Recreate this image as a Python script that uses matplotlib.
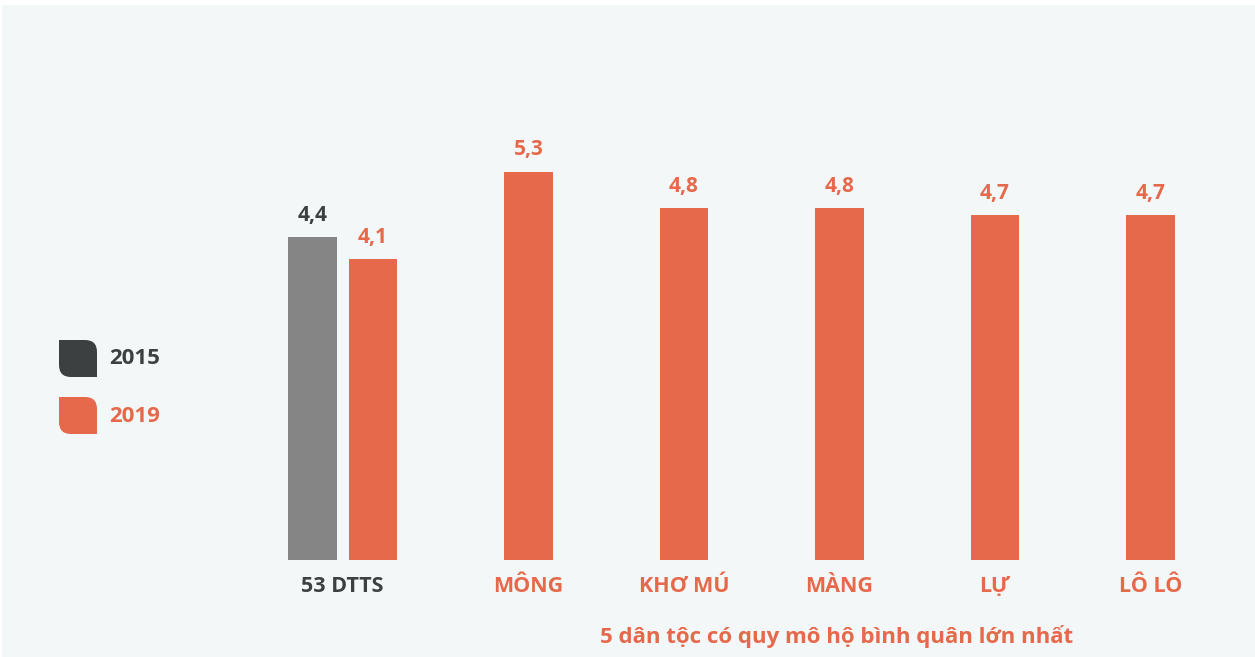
import matplotlib.pyplot as plt
from matplotlib.path import Path
from matplotlib.patches import PathPatch, Rectangle

groups = ['53 DTTS', 'MÔNG', 'KHƠ MÚ', 'MÀNG', 'LỰ', 'LÔ LÔ']
values_2019 = [4.1, 5.3, 4.8, 4.8, 4.7, 4.7]
value_2015 = 4.4
years = ['2015', '2019']
subtitle = '5 dân tộc có quy mô hộ bình quân lớn nhất'

ORANGE = '#E5694A'
GREY_BAR = '#858585'
DARK = '#3C4041'
BG = '#F4F7F7'

plt.rcParams['font.family'] = ['Open Sans', 'DejaVu Sans']

fig = plt.figure(figsize=(12.55, 6.57), dpi=100, facecolor='white')

# background panel, pixel coordinates
bg = fig.add_axes([0, 0, 1, 1])
bg.set_xlim(0, 1255)
bg.set_ylim(657, 0)
bg.axis('off')
bg.add_patch(Rectangle((2, 5), 1253, 652, color=BG, lw=0))

ax = fig.add_axes([0, 0, 1, 1])
ax.patch.set_alpha(0)
ax.axis('off')
ax.set_xlim(-373 / 155.5, (1255 - 373) / 155.5)
ax.set_ylim(-97 / 73.3, 560 / 73.3)

w = 0.315
xs = list(range(len(groups)))

# 2015 bar only for the national group, 2019 bars for all
ax.bar(-0.39, value_2015, width=w, color=GREY_BAR)
ax.bar(xs, values_2019, width=w, color=ORANGE)

ax.text(-0.39, value_2015 + 0.3, f'{value_2015}'.replace('.', ','), ha='center',
        va='center', fontsize=15, fontweight='bold', color=DARK)
for x, v in zip(xs, values_2019):
    ax.text(x, v + 0.3, f'{v}'.replace('.', ','), ha='center', va='center',
            fontsize=15, fontweight='bold', color=ORANGE)

# category labels
label_y = -26 / 73.3
ax.text(-0.195, label_y, groups[0], ha='center', va='center', fontsize=15.5,
        fontweight='bold', color=DARK)
for x, g in zip(xs[1:], groups[1:]):
    ax.text(x, label_y, g, ha='center', va='center', fontsize=15.5,
            fontweight='bold', color=ORANGE)

ax.text(2.98, -76 / 73.3, subtitle, ha='center', va='center', fontsize=16,
        fontweight='bold', color=ORANGE)


# legend with leaf-shaped swatches
def leaf(x0, y0, x1, y1, r):
    verts = [(x0, y0), (x1 - r, y0), (x1, y0), (x1, y0 + r), (x1, y1),
             (x0 + r, y1), (x0, y1), (x0, y1 - r), (x0, y0)]
    codes = [Path.MOVETO, Path.LINETO, Path.CURVE3, Path.CURVE3, Path.LINETO,
             Path.LINETO, Path.CURVE3, Path.CURVE3, Path.CLOSEPOLY]
    return Path(verts, codes)


for i, (yr, col) in enumerate(zip(years, [DARK, ORANGE])):
    top = 340 + i * 57
    bg.add_patch(PathPatch(leaf(59, top, 97, top + 37, 12), color=col, lw=0))
    bg.text(109, top + 19, yr, ha='left', va='center', fontsize=16,
            fontweight='bold', color=col)

fig.savefig('out.png', dpi=100, facecolor='white')
